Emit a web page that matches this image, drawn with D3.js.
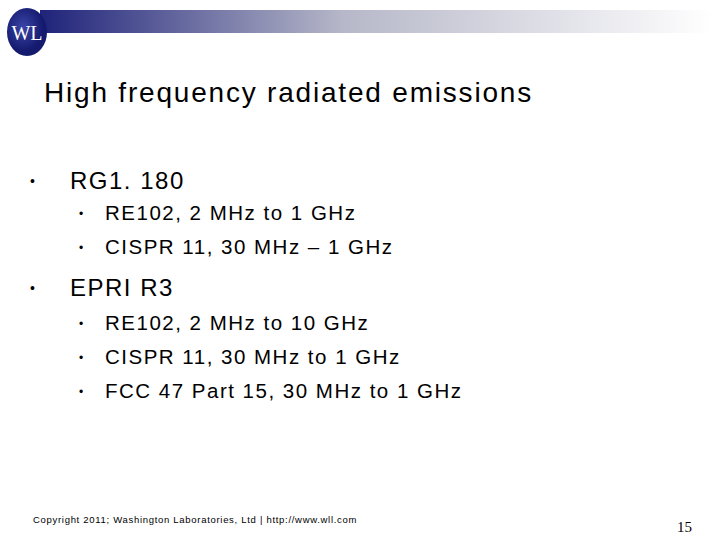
<!DOCTYPE html>
<html><head><meta charset="utf-8">
<script src="https://cdn.jsdelivr.net/npm/d3@7"></script>
<style>body{margin:0;background:#fff}</style></head>
<body><svg id="s" width="720" height="540"></svg>
<script>
const title = "High frequency radiated emissions";
const level1 = ["RG1. 180", "EPRI R3"];
const level2 = [
  ["RE102, 2 MHz to 1 GHz", "CISPR 11, 30 MHz – 1 GHz"],
  ["RE102, 2 MHz to 10 GHz", "CISPR 11, 30 MHz to 1 GHz", "FCC 47 Part 15, 30 MHz to 1 GHz"]
];
const footer = "Copyright 2011; Washington Laboratories, Ltd | http://www.wll.com";
const pageNum = "15";

const svg = d3.select("#s");
const defs = svg.append("defs");
const g = defs.append("linearGradient").attr("id","bar");
g.append("stop").attr("offset","0").attr("stop-color","#1f237a");
g.append("stop").attr("offset","0.45").attr("stop-color","#b6b7c8");
g.append("stop").attr("offset","1").attr("stop-color","#ffffff");
svg.append("rect").attr("x",40).attr("y",10).attr("width",672).attr("height",23).attr("fill","url(#bar)");
const rg = defs.append("radialGradient").attr("id","logo").attr("cx","0.4").attr("cy","0.4");
rg.append("stop").attr("offset","0").attr("stop-color","#3a45a8");
rg.append("stop").attr("offset","1").attr("stop-color","#141a6e");
svg.append("ellipse").attr("cx",27).attr("cy",32).attr("rx",20).attr("ry",24).attr("fill","url(#logo)");
svg.append("text").attr("x",27).attr("y",40).attr("text-anchor","middle").attr("fill","#fff")
  .attr("font-family","Liberation Serif").attr("font-size",20).text("WL");

const ff = "Liberation Sans, Arial, sans-serif";
svg.append("text").attr("x",44).attr("y",102).attr("font-family",ff).attr("font-size",28)
  .attr("letter-spacing",1.8).attr("fill","#000").text(title);

let y = 189;
level1.forEach((l,i)=>{
  svg.append("text").attr("x",30).attr("y",y-3).attr("font-family",ff).attr("font-size",14).text("•");
  svg.append("text").attr("x",70).attr("y",y).attr("font-family",ff).attr("font-size",24).attr("letter-spacing",1.5).text(l);
  y += i === 0 ? 31 : 34;
  level2[i].forEach((s,j)=>{
    svg.append("text").attr("x",79).attr("y",y-2).attr("font-family",ff).attr("font-size",12).text("•");
    svg.append("text").attr("x",105).attr("y",y).attr("font-family",ff).attr("font-size",20.5).attr("letter-spacing",1.5).text(s);
    if (j < level2[i].length-1) y += 34;
  });
  y += 42;
});

svg.append("text").attr("x",33).attr("y",523).attr("font-family",ff).attr("font-size",9.5).attr("letter-spacing",0.7).text(footer);
svg.append("text").attr("x",692).attr("y",532).attr("text-anchor","end").attr("font-family","Liberation Serif").attr("font-size",15).text(pageNum);
</script></body></html>
